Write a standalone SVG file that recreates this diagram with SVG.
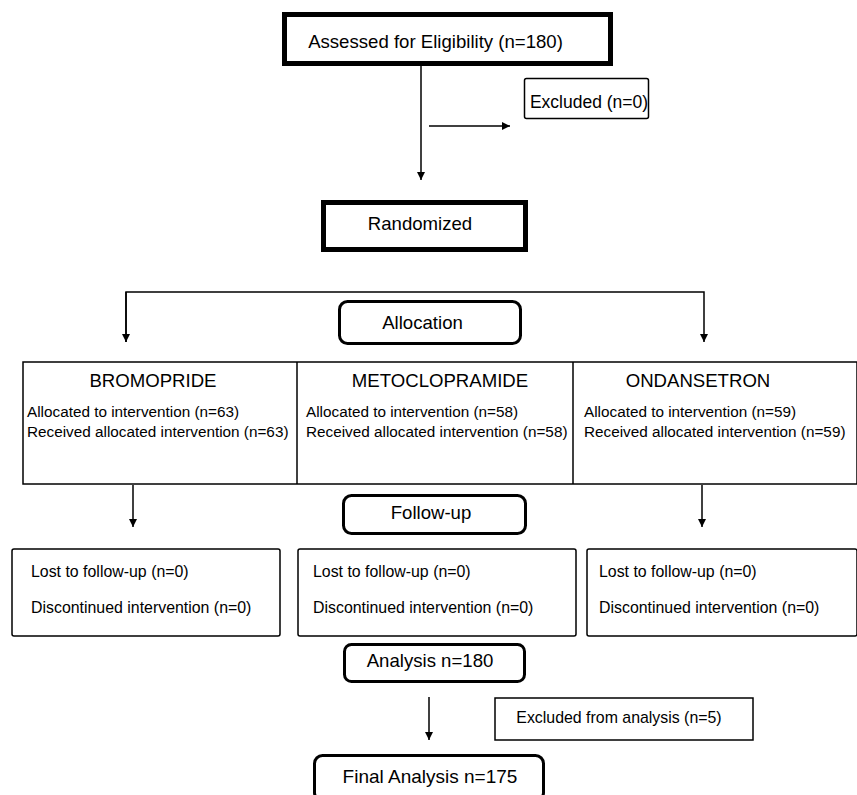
<svg xmlns="http://www.w3.org/2000/svg" width="857" height="795" viewBox="0 0 857 795">
<style>
  text { font-family: "Liberation Sans", Arial, sans-serif; fill: #000; }
  .thick { fill: #fff; stroke: #000; stroke-width: 5; }
  .round { fill: #fff; stroke: #000; stroke-width: 3; }
  .thin { fill: #fff; stroke: #000; stroke-width: 1.5; }
  .t18 { font-size: 18.6px; text-anchor: middle; }
  .t17 { font-size: 17.5px; text-anchor: middle; }
  .body { font-size: 15.3px; }
  .fu { font-size: 15.9px; }
  .conn { fill: none; stroke: #000; stroke-width: 1.5; }
</style>
<defs>
  <marker id="arrow" viewBox="0 0 10 10" refX="10" refY="5" markerWidth="9" markerHeight="8" markerUnits="userSpaceOnUse" orient="auto">
    <path d="M0,0 L10,5 L0,10 z" fill="#000"/>
  </marker>
</defs>
<rect width="857" height="795" fill="#fff"/>

<g id="connectors">
  <path class="conn" d="M421,66 L421,180" marker-end="url(#arrow)"/>
  <path class="conn" d="M429,126 L510,126" marker-end="url(#arrow)"/>
  <path class="conn" d="M126,342 L126,292 L704,292 L704,342" marker-end="url(#arrow)"/>
  <path class="conn" d="M126,292 L126,342" marker-end="url(#arrow)"/>
  <path class="conn" d="M133,485 L133,527" marker-end="url(#arrow)"/>
  <path class="conn" d="M702,485 L702,527" marker-end="url(#arrow)"/>
  <path class="conn" d="M429,697 L429,740" marker-end="url(#arrow)"/>
</g>

<g id="assessed">
  <rect class="thick" x="284.5" y="14.5" width="326" height="49"/>
  <text class="t18" x="435.5" y="48">Assessed for Eligibility (n=180)</text>
</g>

<g id="excluded">
  <rect class="thin" x="524.5" y="78.5" width="124" height="40" rx="2"/>
  <text class="t17" x="589" y="108">Excluded (n=0)</text>
</g>

<g id="randomized">
  <rect class="thick" x="323.5" y="202.5" width="202" height="47"/>
  <text class="t18" x="420" y="230">Randomized</text>
</g>

<g id="allocation">
  <rect class="round" x="339.5" y="301.5" width="181" height="42" rx="8"/>
  <text class="t18" x="422.5" y="329">Allocation</text>
</g>

<g id="groups">
  <rect class="thin" x="23" y="362" width="834" height="122"/>
  <line x1="297" y1="362" x2="297" y2="484" stroke="#000" stroke-width="1.5"/>
  <line x1="573" y1="362" x2="573" y2="484" stroke="#000" stroke-width="1.5"/>
</g>

<g id="bromopride">
  <text class="t18" x="153" y="387">BROMOPRIDE</text>
  <text class="body" x="27" y="417">Allocated to intervention (n=63)</text>
  <text class="body" x="27" y="437">Received allocated intervention (n=63)</text>
</g>

<g id="metoclopramide">
  <text class="t18" x="440" y="387">METOCLOPRAMIDE</text>
  <text class="body" x="306" y="417">Allocated to intervention (n=58)</text>
  <text class="body" x="306" y="437">Received allocated intervention (n=58)</text>
</g>

<g id="ondansetron">
  <text class="t18" x="698" y="387">ONDANSETRON</text>
  <text class="body" x="584" y="417">Allocated to intervention (n=59)</text>
  <text class="body" x="584" y="437">Received allocated intervention (n=59)</text>
</g>

<g id="followup">
  <rect class="round" x="343.5" y="495.5" width="182" height="38" rx="8"/>
  <text class="t18" x="431" y="519">Follow-up</text>
</g>

<g id="fu-bromopride">
  <rect class="thin" x="12" y="549" width="268" height="87" rx="2"/>
  <text class="fu" x="31" y="577">Lost to follow-up (n=0)</text>
  <text class="fu" x="31" y="613">Discontinued intervention (n=0)</text>
</g>

<g id="fu-metoclopramide">
  <rect class="thin" x="298" y="549" width="278" height="87" rx="2"/>
  <text class="fu" x="313" y="577">Lost to follow-up (n=0)</text>
  <text class="fu" x="313" y="613">Discontinued intervention (n=0)</text>
</g>

<g id="fu-ondansetron">
  <rect class="thin" x="587" y="549" width="270" height="87" rx="2"/>
  <text class="fu" x="599" y="577">Lost to follow-up (n=0)</text>
  <text class="fu" x="599" y="613">Discontinued intervention (n=0)</text>
</g>

<g id="analysis">
  <rect class="round" x="344.5" y="644.5" width="180" height="37" rx="7"/>
  <text class="t18" x="430" y="667">Analysis n=180</text>
</g>

<g id="excluded-analysis">
  <rect class="thin" x="495" y="698" width="258" height="42"/>
  <text class="fu" x="619" y="723" text-anchor="middle">Excluded from analysis (n=5)</text>
</g>

<g id="final">
  <rect class="round" x="314.5" y="755.5" width="229" height="45" rx="8"/>
  <text class="t18" x="430" y="783" style="font-size:19px">Final Analysis n=175</text>
</g>
</svg>
